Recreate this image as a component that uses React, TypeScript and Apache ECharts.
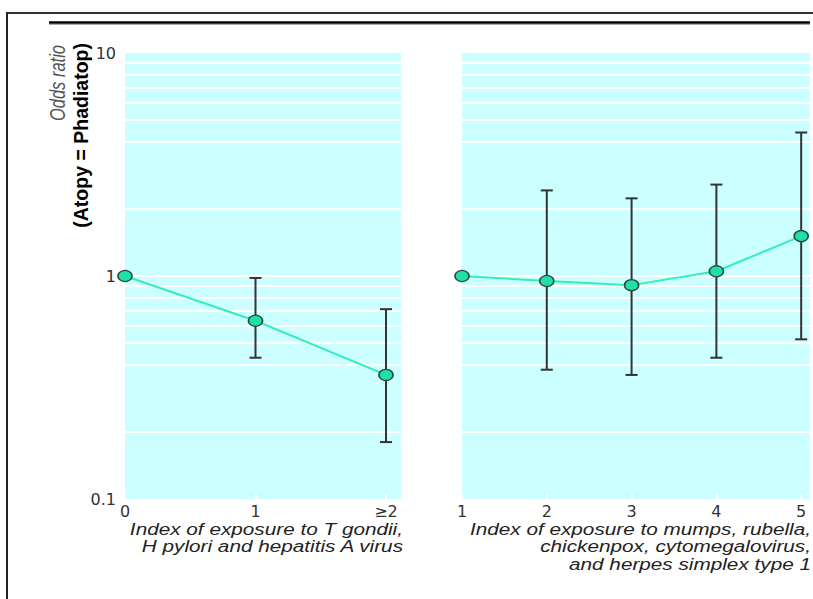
import React, { useEffect, useRef } from 'react';
import * as echarts from 'echarts';

// ---- data ----
const leftCategories = ['0', '1', '≥2'];
const leftX = [0, 1, 2];
const leftOdds = [1.0, 0.63, 0.36];
const leftLower: (number | null)[] = [null, 0.43, 0.18];
const leftUpper: (number | null)[] = [null, 0.98, 0.71];

const rightCategories = ['1', '2', '3', '4', '5'];
const rightX = [1, 2, 3, 4, 5];
const rightOdds = [1.0, 0.95, 0.91, 1.05, 1.51];
const rightLower: (number | null)[] = [null, 0.38, 0.36, 0.43, 0.52];
const rightUpper: (number | null)[] = [null, 2.42, 2.23, 2.57, 4.4];

const yTickLabels = ['0.1', '1', '10'];
const gridValues = [0.2, 0.4, 0.5, 0.6, 0.7, 0.8, 0.9, 1, 2, 4, 5, 6, 7, 8, 9];

const leftTitle = 'Index of exposure to T gondii,\nH pylori and hepatitis A virus';
const rightTitle = 'Index of exposure to mumps, rubella,\nchickenpox, cytomegalovirus,\nand herpes simplex type 1';
const yTitle1 = 'Odds ratio';
const yTitle2 = '(Atopy = Phadiatop)';

const LINE_COLOR = '#33eebb';
const DOT_COLOR = '#1fe0a6';
const DOT_BORDER = '#2b4a42';
const ERR_COLOR = '#333333';

function errRender(_params: any, api: any) {
  const x = api.value(0);
  const lo = api.value(1);
  const hi = api.value(2);
  const top = api.coord([x, hi]);
  const bot = api.coord([x, lo]);
  const w = 6;
  const style = { stroke: ERR_COLOR, lineWidth: 2 };
  return {
    type: 'group',
    children: [
      { type: 'line', shape: { x1: top[0], y1: top[1], x2: bot[0], y2: bot[1] }, style },
      { type: 'line', shape: { x1: top[0] - w, y1: top[1], x2: top[0] + w, y2: top[1] }, style },
      { type: 'line', shape: { x1: bot[0] - w, y1: bot[1], x2: bot[0] + w, y2: bot[1] }, style },
    ],
  };
}

function errData(xs: number[], lo: (number | null)[], hi: (number | null)[]) {
  const out: number[][] = [];
  xs.forEach((x, i) => {
    if (lo[i] != null && hi[i] != null) out.push([x, lo[i] as number, hi[i] as number]);
  });
  return out;
}

const tickLabelStyle = { fontSize: 16, fontFamily: 'DejaVu Sans', color: '#333' };

function xAxisFor(gridIndex: number, min: number, max: number, labels: string[], offset: number) {
  return {
    gridIndex,
    type: 'value',
    min,
    max,
    interval: 1,
    axisLine: { show: false },
    splitLine: { show: false },
    axisTick: { show: true, inside: true, length: 5, lineStyle: { color: '#ffffff', width: 2 } },
    axisLabel: {
      ...tickLabelStyle,
      margin: 4,
      showMaxLabel: false,
      formatter: (v: number) => (Number.isInteger(v) ? labels[v - offset] ?? '' : ''),
    },
  };
}

function yAxisFor(gridIndex: number, showLabels: boolean) {
  return {
    gridIndex,
    type: 'log',
    logBase: 10,
    min: 0.1,
    max: 10,
    axisLine: { show: false },
    axisTick: { show: false },
    splitLine: { show: false },
    axisLabel: {
      show: showLabels,
      ...tickLabelStyle,
      margin: 9,
      formatter: (v: number) => yTickLabels[Math.round(Math.log10(v)) + 1] ?? '',
    },
  };
}

function gridLineSeries(idx: number, xs: number[], ys: number[]) {
  return {
    type: 'line',
    xAxisIndex: idx,
    yAxisIndex: idx,
    data: xs.map((x, i) => [x, ys[i]]),
    symbol: 'none',
    lineStyle: { opacity: 0 },
    silent: true,
    z: 1,
    markLine: {
      z: 1,
      silent: true,
      symbol: ['none', 'none'],
      label: { show: false },
      lineStyle: { color: '#ffffff', width: 2, type: 'solid' },
      data: gridValues.map((v) => ({ yAxis: v })),
    },
  };
}

function mainSeries(idx: number, xs: number[], ys: number[]) {
  return {
    type: 'line',
    xAxisIndex: idx,
    yAxisIndex: idx,
    data: xs.map((x, i) => [x, ys[i]]),
    symbol: 'circle',
    symbolSize: [14, 11],
    clip: false,
    itemStyle: { color: DOT_COLOR, borderColor: DOT_BORDER, borderWidth: 1.5 },
    lineStyle: { color: LINE_COLOR, width: 2 },
    z: 5,
  };
}

function errSeries(idx: number, data: number[][]) {
  return {
    type: 'custom',
    xAxisIndex: idx,
    yAxisIndex: idx,
    renderItem: errRender,
    encode: { x: 0, y: [1, 2] },
    data,
    z: 3,
  };
}

export default function App() {
  const ref = useRef<HTMLDivElement>(null);
  useEffect(() => {
    if (!ref.current) return;
    const chart = echarts.init(ref.current, undefined, { renderer: 'svg' });
    const option: any = {
      animation: false,
      backgroundColor: '#ffffff',
      grid: [
        { left: 125, top: 53, width: 276, height: 446, show: true, backgroundColor: '#ccffff', borderWidth: 0 },
        { left: 462, top: 53, width: 348, height: 446, show: true, backgroundColor: '#ccffff', borderWidth: 0 },
      ],
      xAxis: [
        xAxisFor(0, 0, 2.115, leftCategories, 0),
        xAxisFor(1, 1, 5.104, rightCategories, 1),
      ],
      yAxis: [yAxisFor(0, true), yAxisFor(1, false)],
      series: [
        gridLineSeries(0, leftX, leftOdds),
        gridLineSeries(1, rightX, rightOdds),
        errSeries(0, errData(leftX, leftLower, leftUpper)),
        errSeries(1, errData(rightX, rightLower, rightUpper)),
        mainSeries(0, leftX, leftOdds),
        mainSeries(1, rightX, rightOdds),
      ],
      graphic: [
        { type: 'line', z: 10, shape: { x1: 6, y1: 13, x2: 813, y2: 13 }, style: { stroke: '#333', lineWidth: 2 } },
        { type: 'line', z: 10, shape: { x1: 7, y1: 12, x2: 7, y2: 599 }, style: { stroke: '#222', lineWidth: 2 } },
        { type: 'line', z: 10, shape: { x1: 49, y1: 24.5, x2: 810, y2: 24.5 }, style: { stroke: '#aaaaaa', lineWidth: 1 } },
        { type: 'line', z: 10, shape: { x1: 49, y1: 22.5, x2: 810, y2: 22.5 }, style: { stroke: '#000', lineWidth: 2.5 } },
        {
          type: 'text',
          x: 57,
          y: 45,
          rotation: Math.PI / 2,
          scaleY: 1.35,
          style: {
            text: yTitle1,
            align: 'right',
            verticalAlign: 'middle',
            fontSize: 16.5,
            fontStyle: 'italic',
            fontFamily: 'Liberation Sans',
            fill: '#555',
          },
        },
        {
          type: 'text',
          x: 81,
          y: 43,
          rotation: Math.PI / 2,
          style: {
            text: yTitle2,
            align: 'right',
            verticalAlign: 'middle',
            fontSize: 19.5,
            fontWeight: 'bold',
            fontFamily: 'Liberation Sans',
            fill: '#000',
          },
        },
        {
          type: 'text',
          x: 403,
          y: 520,
          scaleX: 1.22,
          style: {
            text: leftTitle,
            align: 'right',
            verticalAlign: 'top',
            fontSize: 17,
            lineHeight: 17.5,
            fontStyle: 'italic',
            fontFamily: 'Liberation Sans',
            fill: '#222',
          },
        },
        {
          type: 'text',
          x: 811,
          y: 520,
          scaleX: 1.22,
          style: {
            text: rightTitle,
            align: 'right',
            verticalAlign: 'top',
            fontSize: 17,
            lineHeight: 17.5,
            fontStyle: 'italic',
            fontFamily: 'Liberation Sans',
            fill: '#222',
          },
        },
      ],
    };
    chart.setOption(option);
    return () => chart.dispose();
  }, []);
  return (
    <div
      ref={ref}
      style={{ position: 'absolute', left: 0, top: 0, width: 813, height: 599 }}
    />
  );
}
